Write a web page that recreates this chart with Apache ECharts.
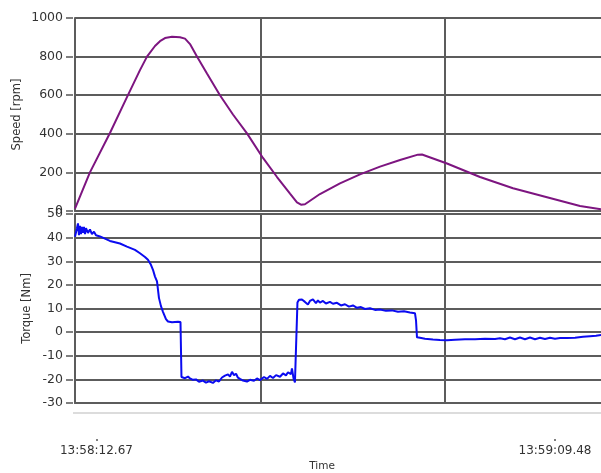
<!DOCTYPE html>
<html>
<head>
<meta charset="utf-8">
<script src="https://cdn.jsdelivr.net/npm/echarts@6/dist/echarts.min.js"></script>
<style>
  html, body {margin: 0; padding: 0; background: #fff;}
  #chart {width: 601px; height: 473px;}
</style>
</head>
<body>
<div id="chart"></div>
<script>
// time in seconds after 13:58:12.67
const timeLabels = [0, 56.81];
const timeGrid = [20.38, 43.18];
const timeMin = -2.66;
const timeMax = 62.51;

const speedTime = [-2.66, -2.42, -0.81, 1.67, 3.78, 5.39, 6.26, 7.25, 7.87, 8.49, 9.36, 10.35, 10.97, 11.59, 12.45, 13.69, 15.30, 16.91, 18.65, 20.63, 22.37, 23.98, 24.84, 25.34, 25.83, 27.69, 30.17, 32.65, 35.13, 37.61, 39.83, 40.33, 43.43, 47.52, 51.61, 55.82, 59.91, 62.51];
const speedValues = [12, 20, 200, 404, 590, 730, 800, 855, 880, 896, 903, 900, 893, 865, 800, 712, 600, 500, 402, 275, 176, 90, 45, 33, 35, 88, 143, 190, 230, 264, 292, 293, 246, 176, 118, 71, 26, 9];

const torqueTime = [-2.66, -2.54, -2.42, -2.29, -2.17, -2.04, -1.92, -1.80, -1.67, -1.55, -1.42, -1.30, -1.05, -0.81, -0.56, -0.31, -0.06, 0.43, 1.67, 2.91, 3.78, 4.77, 5.39, 6.01, 6.38, 6.75, 7.00, 7.25, 7.50, 7.74, 7.99, 8.24, 8.61, 8.86, 9.36, 10.10, 10.41, 10.53,
  10.97, 11.34, 11.59, 11.96, 12.33, 12.70, 13.19, 13.57, 13.94, 14.43, 14.81, 15.18, 15.55, 15.92, 16.30, 16.54, 16.79, 17.04, 17.29, 17.53, 17.78, 18.15, 18.65, 19.02, 19.52, 19.89, 20.26, 20.76, 21.13, 21.50, 21.87, 22.25, 22.74, 23.11, 23.48, 23.73, 24.10, 24.22, 24.41, 24.59, 24.78,
  24.90, 25.09, 25.46, 25.83, 26.20, 26.45, 26.82, 27.19, 27.44, 27.69, 28.06, 28.43, 28.93, 29.30, 29.80, 30.29, 30.79, 31.28, 31.78, 32.28, 32.77, 33.27, 33.89, 34.51, 35.13, 35.87, 36.61, 37.36, 38.10, 38.84, 39.46, 39.59,
  39.71, 40.08, 40.70, 41.69, 42.56, 43.43, 44.42, 45.66, 46.90, 48.14, 49.38, 49.99, 50.61, 51.23, 51.85, 52.47, 53.09, 53.71, 54.33, 54.95, 55.57, 56.19, 56.81, 57.43, 58.30, 59.29, 60.28, 61.15, 61.89, 62.51];
const torqueValues = [40.4, 40.5, 44, 46, 41, 45, 41.5, 44.5, 42, 44.5, 41.5, 44, 42, 43.5, 41.5, 42.5, 41, 40.5, 38.6, 37.5, 36.2, 34.8, 33.4, 31.8, 30.6, 28.5, 26.4, 23.5, 21.5, 14.5, 11, 8.6, 5.5, 4.5, 4.2, 4.4, 4.3, -19,
  -19.5, -18.8, -19.6, -20.2, -20.0, -21.0, -20.5, -21.4, -20.8, -21.5, -20.4, -20.9, -19.2, -18.4, -17.9, -18.8, -16.8, -18.2, -17.6, -19.3, -19.8, -20.5, -20.9, -20.2, -20.6, -19.6, -20.3, -19.0, -19.8, -18.5, -19.4, -18.2, -18.9, -17.5, -18.3, -17.0, -17.8, -15.4, -19.5, -21.3, -21.0,
  12.5, 13.7, 13.8, 12.8, 11.7, 13.2, 13.9, 12.3, 13.4, 12.5, 13.2, 12.1, 12.8, 12.0, 12.4, 11.3, 11.8, 10.8, 11.3, 10.3, 10.6, 9.8, 10.1, 9.4, 9.6, 9.0, 9.2, 8.6, 8.8, 8.3, 8.0, 5,
  -2.2, -2.4, -2.8, -3.1, -3.3, -3.4, -3.2, -3.0, -3.0, -2.8, -2.9, -2.6, -3.0, -2.3, -3.0, -2.3, -3.0, -2.3, -3.0, -2.4, -2.9, -2.4, -2.8, -2.5, -2.5, -2.4, -2.0, -1.7, -1.5, -1.2];

const speedData = speedTime.map((t, i) => [t, speedValues[i]]);
const torqueData = torqueTime.map((t, i) => [t, torqueValues[i]]);

const gridColor = '#5c5c5c';
const font = 'DejaVu Sans';

function fmtTime(v) {
  let s = 50292.67 + v; // 13:58:12.67
  const h = Math.floor(s / 3600);
  s -= h * 3600;
  const m = Math.floor(s / 60);
  s -= m * 60;
  const pad = (n) => (n < 10 ? '0' : '') + n;
  const ss = s.toFixed(2);
  return pad(h) + ':' + pad(m) + ':' + (s < 10 ? '0' + ss : ss);
}

const chart = echarts.init(document.getElementById('chart'));

// main axes: axis line, grid lines, name
const yMain = {
  type: 'value',
  nameLocation: 'middle',
  nameRotate: 90,
  nameTextStyle: {fontFamily: font, fontSize: 11.5, color: '#333'},
  axisLine: {show: true, onZero: false, lineStyle: {color: gridColor, width: 2}},
  axisTick: {show: false},
  axisLabel: {show: false},
  splitLine: {show: true, lineStyle: {color: gridColor, width: 2}}
};
// tick/label axes, pushed a bit left so the ticks stand apart from the axis line
const yTicks = {
  type: 'value',
  position: 'left',
  offset: 2,
  axisLine: {show: false, onZero: false},
  axisTick: {show: true, length: 7, lineStyle: {color: '#555', width: 1.5}},
  axisLabel: {fontFamily: font, fontSize: 12.5, color: '#333', margin: 10, formatter: (v) => String(v)},
  splitLine: {show: false}
};

const xCommon = {
  type: 'value',
  position: 'bottom',
  min: timeMin,
  max: timeMax,
  axisLine: {show: true, onZero: false, lineStyle: {color: gridColor, width: 2}},
  axisTick: {show: false, customValues: timeGrid},
  axisLabel: {show: false},
  splitLine: {show: true, lineStyle: {color: gridColor, width: 2}}
};

const option = {
  animation: false,
  grid: [
    {left: 75, top: 18, right: 0, height: 193},
    {left: 75, top: 214, right: 0, height: 190}
  ],
  xAxis: [
    Object.assign({gridIndex: 0}, xCommon),
    Object.assign({gridIndex: 1}, xCommon),
    {
      type: 'value',
      gridIndex: 1,
      position: 'bottom',
      min: timeMin,
      max: timeMax,
      offset: 36,
      name: 'Time',
      nameLocation: 'middle',
      nameGap: 22,
      nameTextStyle: {fontFamily: font, fontSize: 10.5, color: '#333', padding: [0, 32, 0, 0]},
      axisLine: {show: false, onZero: false},
      axisTick: {show: true, length: 2, customValues: timeLabels, lineStyle: {color: '#555', width: 1.5}},
      axisLabel: {show: true, customValues: timeLabels, formatter: fmtTime, fontFamily: font, fontSize: 12, color: '#333', margin: 6},
      splitLine: {show: false}
    }
  ],
  yAxis: [
    Object.assign({}, yMain, {gridIndex: 0, min: 0, max: 1000, interval: 200, name: 'Speed [rpm]', nameGap: 52}),
    Object.assign({}, yMain, {gridIndex: 1, min: -30, max: 50, interval: 10, name: 'Torque [Nm]', nameGap: 42}),
    Object.assign({}, yTicks, {gridIndex: 0, min: 0, max: 1000, interval: 200}),
    Object.assign({}, yTicks, {gridIndex: 1, min: -30, max: 50, interval: 10})
  ],
  graphic: [
    {type: 'line', shape: {x1: 73, y1: 413, x2: 601, y2: 413}, style: {stroke: '#d0d0d0', lineWidth: 1.5}}
  ],
  series: [
    {
      type: 'line',
      xAxisIndex: 0,
      yAxisIndex: 0,
      data: speedData,
      showSymbol: false,
      lineStyle: {color: '#7d1580', width: 2}
    },
    {
      type: 'line',
      xAxisIndex: 1,
      yAxisIndex: 1,
      data: torqueData,
      showSymbol: false,
      lineStyle: {color: '#0b0bf0', width: 2}
    }
  ]
};

chart.setOption(option);
</script>
</body>
</html>
